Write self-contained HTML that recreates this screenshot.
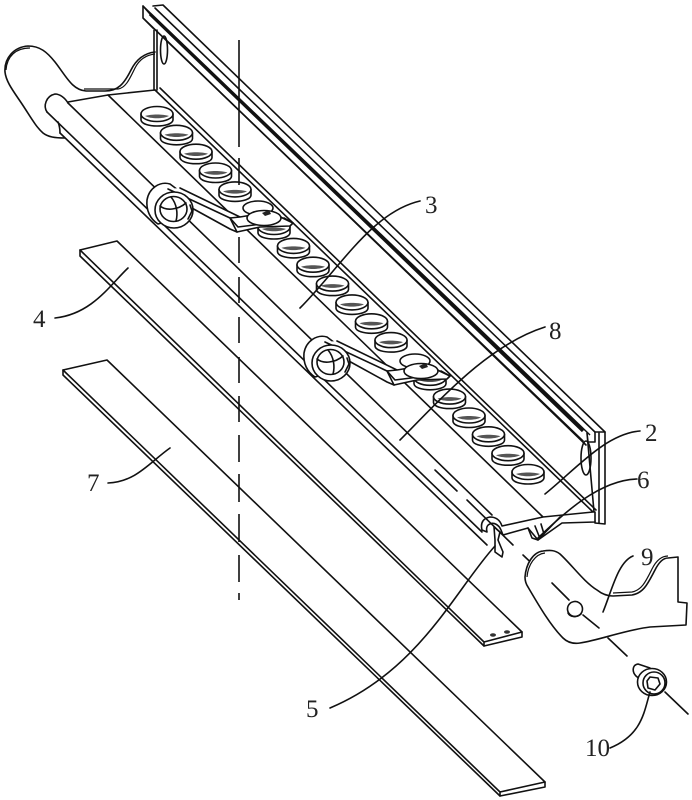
<!DOCTYPE html>
<html>
<head>
<meta charset="utf-8">
<style>
html,body{margin:0;padding:0;background:#fff;width:692px;height:800px;overflow:hidden}
svg{display:block}
text{font-family:"Liberation Serif",serif;font-size:25px;fill:#222}
.l{fill:none;stroke:#111;stroke-width:1.6;stroke-linecap:round;stroke-linejoin:round}
.w{fill:#fff;stroke:#111;stroke-width:1.6;stroke-linejoin:round}
.n{fill:#fff;stroke:none}
.t{fill:none;stroke:#111;stroke-width:1.2}
</style>
</head>
<body>
<svg width="692" height="800" viewBox="0 0 692 800" xmlns="http://www.w3.org/2000/svg">
<defs>
<g id="d">
<path class="w" d="M-16,-3 L-16,3 C-15,11 15,11 16,3 L16,-3 Z"/>
<ellipse class="w" cx="0" cy="-3" rx="16" ry="7.5"/>
<path d="M-12,-1 C-6,2 6,2 12,-1 C6,-3 -6,-3 -12,-1Z" fill="#555"/>
</g>
<g id="s">
<path class="w" d="M170,184 C160,181 149,188 147,200 C146,210 150,219 158,224 L190,215 L178,190Z"/>
<path class="n" d="M168,189 L180,188 L240,217 L262,226 L237,232 L190,207 Z"/>
<path class="l" d="M168,189 L230,218 M180,188 L240,217 M190,207 L230,229 L237,232"/>
<ellipse class="w" cx="174" cy="210" rx="19" ry="18"/>
<ellipse class="w" cx="173.500" cy="209" rx="13.500" ry="12.500"/>
<path class="l" d="M160,206 C166,211 178,210 186,203 M171,197 C177,204 178,214 176,221"/>
<path class="l" d="M190,205 L192,211 L188,219"/>
<ellipse class="w" cx="258" cy="208" rx="15" ry="7"/>
<path class="w" d="M230,218 L240,217 L270,212 L293,223 L290,226 L260,227 L237,232 Z"/>
<path class="l" d="M230,218 L238,227 L262,224 M284,218 L293,223"/>
<ellipse class="w" cx="264" cy="218" rx="17" ry="7.5"/>
<path d="M262,213 l7,-3 l2,4 l-6,2z" fill="#222"/>
</g>
</defs>
<rect width="692" height="800" fill="#fff"/>

<!-- left end bracket -->
<path class="w" d="M155,52 C146,53 137,58 131,70 C124,84 118,91 105,91 L86,91 C72,90 66,76 55,62 C47,52 40,46 28,46 C14,47 4,58 5,72 C6,82 14,92 22,104 C30,116 36,127 43,133 C48,137 55,138 65,138 L120,100 L155,90 Z" style="fill:#fff;stroke:none"/>
<path class="l" d="M155,52 C146,53 137,58 131,70 C124,84 118,91 105,91 L86,91 C72,90 66,76 55,62 C47,52 40,46 28,46 C14,47 4,58 5,72 C6,82 14,92 22,104 C30,116 36,127 43,133 C48,137 55,138 65,138"/>
<path class="t" d="M6,70 C7,56 16,48 30,48 M84,89 L118,89 C126,88 130,78 135,68 C139,60 146,55 155,54"/>
<path class="l" d="M154,30 V90 M157,30 V90"/>
<ellipse class="l" cx="164" cy="50" rx="3.5" ry="14"/>

<!-- rail -->
<path class="l" d="M153,6 L163,5 L605,432"/>
<path class="l" d="M155,8 L597,434"/>
<path d="M143,6 L590,435" fill="none" stroke="#111" stroke-width="1.5"/>
<path d="M150,14 L583,431" fill="none" stroke="#111" stroke-width="3.2"/>
<path class="l" d="M143,6 L143,18 L153,28 M143,18 L583,441"/>
<path class="l" d="M163,37 L586,445"/>
<path class="l" d="M143,6 L150,14"/>

<!-- right end -->
<path class="w" d="M587,433 L588,442 L595,442 L595,432 L605,432 L605,524 L595,523 Z" style="fill:#fff"/>
<ellipse class="l" cx="586" cy="458" rx="5" ry="17"/>
<path class="l" d="M599,433 L599,523"/>

<!-- floor -->
<path class="l" d="M155,90 L593,512"/>
<path class="l" d="M160,88 L596,510"/>
<path class="l" d="M108,95 L543,517"/>
<path class="l" d="M68,102 L108,95 L155,90"/>

<!-- rod + lip -->
<path class="n" d="M46,110 L68,102 L493,518 L482,533 L60,133 Z"/>
<path class="l" d="M68,103 L492,515"/>
<path class="l" d="M47,112 L482,532"/>
<path class="l" d="M60,133 L487,545"/>
<path class="l" d="M47,112 C43,106 46,96 55,94 C60,94 65,98 68,103"/>
<path class="l" d="M58,122 C60,127 60,130 60,133"/>

<!-- discs -->
<use href="#d" x="157" y="117"/><use href="#d" x="176.500" y="135.800"/><use href="#d" x="196" y="154.700"/><use href="#d" x="215.500" y="173.500"/><use href="#d" x="235" y="192.400"/>
<use href="#d" x="274" y="230"/><use href="#d" x="293.500" y="248.900"/><use href="#d" x="313" y="267.700"/><use href="#d" x="332.500" y="286.600"/><use href="#d" x="352" y="305.400"/><use href="#d" x="371.500" y="324.300"/><use href="#d" x="391" y="343.100"/>
<use href="#d" x="430" y="380.800"/><use href="#d" x="449.500" y="399.600"/><use href="#d" x="469" y="418.500"/><use href="#d" x="488.500" y="437.300"/><use href="#d" x="508" y="456.200"/><use href="#d" x="528" y="475"/>

<!-- springs -->
<use href="#s"/>
<use href="#s" x="157" y="153"/>

<!-- front profile -->
<path class="w" d="M482,530 C480,522 484,518 490,517 C496,517 500,520 502,526 L543,517 L593,512 L595,512 L595,522 L562,523 L538,540 L528,528 L503,535 L501,530 C499,525 494,522 490,524 C487,525 486,528 487,532 Z"/>
<path class="l" d="M528,528 L532,538 L538,540 L560,517 M535,526 L539,536 M541,524 L544,534"/>
<path class="w" d="M494,527 L495,540 L495,552 L502,557 L503,552 L498,540 L500,532 Z"/>

<!-- axis dashes -->
<path class="l" d="M435,470 L457,491 M467,500 L513,545 M523,555 L543,574 M552,583 L572,603 M583,615 L599,628 M608,638 L627,656 M665,692 L688,714"/>

<!-- strip 4 -->
<path class="w" d="M80,250 L117,241 L522,632 L522,637 L484,646 L80,256 Z"/>
<path class="l" d="M80,250 L484,642 L522,632 M484,642 L484,646"/>
<ellipse cx="493" cy="635" rx="3" ry="1.700" fill="#333"/>
<ellipse cx="507" cy="632" rx="3" ry="1.700" fill="#333"/>

<!-- strip 7 -->
<path class="w" d="M63,370 L107,360 L545,782 L545,787 L500,796 L63,375 Z"/>
<path class="l" d="M63,370 L500,792 L545,782 M500,792 L500,796"/>

<!-- vertical center line -->
<path class="l" style="stroke-linecap:butt" d="M239,40 V147 M239,158 V185 M239,237 V263 M239,277 V303 M239,317 V343 M239,357 V383 M239,396 V422 M239,435 V462 M239,474 V502 M239,514 V542 M239,555 V582 M239,593 V600"/>

<!-- bracket 9 -->
<path class="w" d="M525,577 C526,564 533,552 543,551 C550,550 555,550 560,554 C572,565 584,582 597,590 C602,594 607,596 613,596 L632,595 C644,593 648,583 655,570 C659,562 663,558 668,558 L678,557 L678,602 L687,603 L686,625 L650,627 C625,630 600,640 580,643 C573,644 567,642 563,638 C550,625 538,604 528,587 C526,584 525,581 525,577 Z"/>
<path class="t" d="M527,577 C528,565 535,554 545,553 M613,593 L632,592 C642,590 646,581 652,569 C656,561 661,556 668,556"/>
<ellipse class="w" cx="575" cy="609" rx="7.500" ry="7.500" transform="rotate(35 575 609)"/>
<path class="l" d="M568,613 C570,617 576,618 581,614"/>
<path class="l" d="M552,583 L569,600 M583,615 L599,628"/>

<!-- bolt 10 -->
<path class="w" d="M638,664 C632,665 632,672 636,676 L642,681 L650,668 Z"/>
<ellipse class="w" cx="652" cy="682" rx="14.500" ry="13.500"/>
<circle class="l" cx="654" cy="683" r="11"/>
<path class="l" d="M650,677 L658,678 L660,684 L655,690 L648,688 L647,681 Z"/>

<!-- leaders -->
<path class="l" d="M300,308 C340,268 372,212 420,201"/>
<path class="l" d="M400,440 C440,400 488,345 545,327"/>
<path class="l" d="M545,494 C575,470 605,434 640,431"/>
<path class="l" d="M538,538 C565,512 600,480 637,479"/>
<path class="l" d="M603,612 C612,590 618,562 633,556"/>
<path class="l" d="M650,692 C644,712 642,735 610,748"/>
<path class="l" d="M495,546 C455,590 420,670 330,708"/>
<path class="l" d="M128,268 C110,285 92,314 55,318"/>
<path class="l" d="M170,448 C150,462 136,482 108,483"/>

<!-- labels -->
<text x="425" y="213">3</text>
<text x="549" y="339">8</text>
<text x="645" y="441">2</text>
<text x="637" y="488">6</text>
<text x="641" y="565">9</text>
<text x="585" y="756">10</text>
<text x="306" y="717">5</text>
<text x="33" y="327">4</text>
<text x="87" y="491">7</text>
</svg>
</body>
</html>
